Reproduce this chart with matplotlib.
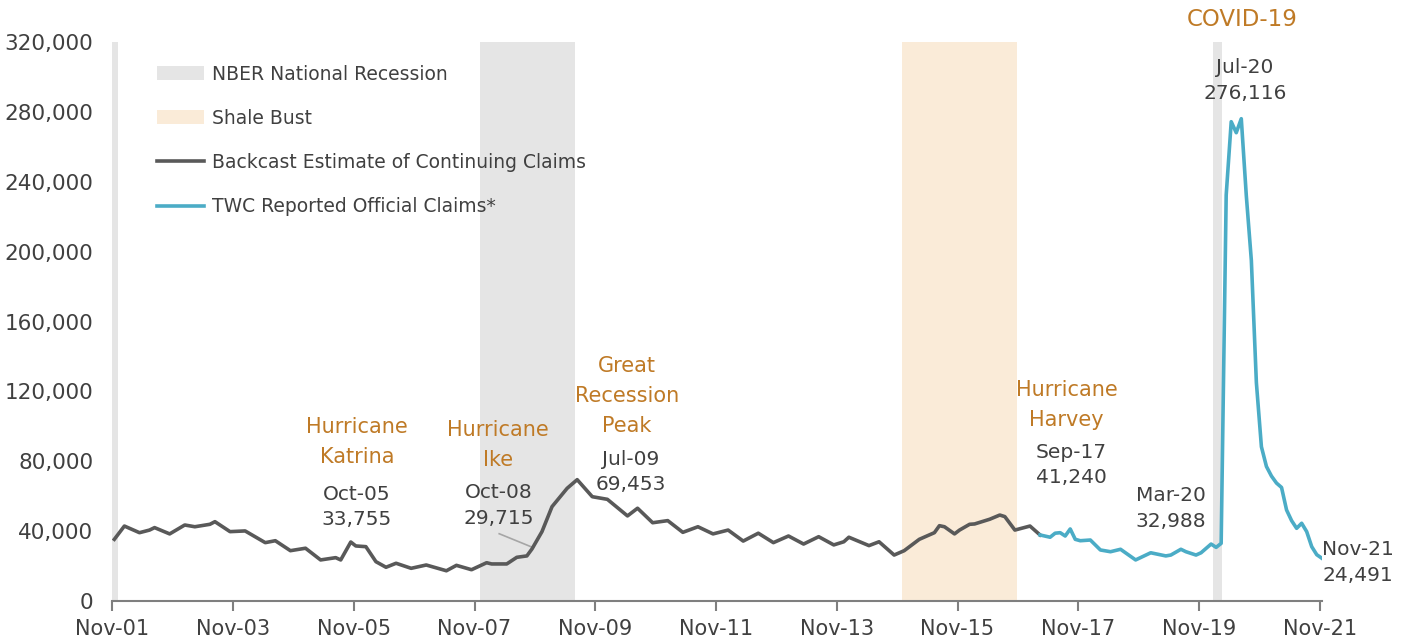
import matplotlib
matplotlib.use("Agg")
import matplotlib.pyplot as plt
from matplotlib.patches import Patch
from matplotlib.lines import Line2D
import numpy as np

# months counted from Nov-01 (0) to Nov-21 (240)
tick_months = [0, 24, 48, 72, 96, 120, 144, 168, 192, 216, 240]
tick_labels = ["Nov-01", "Nov-03", "Nov-05", "Nov-07", "Nov-09", "Nov-11",
               "Nov-13", "Nov-15", "Nov-17", "Nov-19", "Nov-21"]

# Backcast estimate of continuing claims (month index, claims)
backcast_months = [0, 2, 5, 7, 8, 11, 14, 16, 19, 20, 23, 26, 30, 32, 35, 38, 41, 44, 45,
                   47, 48, 50, 52, 54, 56, 59, 62, 66, 68, 71, 74, 75, 78, 80, 82, 83, 85,
                   87, 90, 92, 95, 98, 102, 104, 107, 110, 113, 116, 119, 122, 125, 128,
                   131, 134, 137, 140, 143, 145, 146, 150, 152, 155, 157, 160, 163, 164,
                   165, 167, 168, 170, 171, 174, 176, 177, 179, 182, 184]
backcast_claims = [35300, 42900, 39100, 40600, 42000, 38400, 43500, 42500, 43900, 45400,
                   39700, 40100, 33400, 34500, 28800, 30200, 23500, 24800, 23500,
                   33755, 31500, 31100, 22500, 19300, 21600, 18700, 20600, 17300, 20400,
                   17900, 21900, 21200, 21200, 25000, 25800, 29715, 39700,
                   54000, 64500, 69453, 59700, 58200, 48700, 53100, 44800, 46000, 39300,
                   42500, 38400, 40600, 34300, 38800, 33400, 37200, 32600, 36800, 32100,
                   33900, 36500, 31700, 33900, 26300, 28800, 35300, 39100, 43100,
                   42500, 38400, 40600, 43900, 44100, 46800, 49200, 48300, 40600, 42900, 37800]

# TWC reported official claims
twc_months = [184, 186, 187, 188, 189, 190, 191, 192, 194, 196, 198, 200, 203, 206, 209,
              210, 212, 213, 215, 216, 218, 219, 220, 221, 222, 223, 224, 225, 226, 227,
              228, 229, 230, 231, 232, 233, 234, 235, 236, 237, 238, 239, 240]
twc_claims = [37800, 36500, 38800, 39100, 37200, 41240, 35300, 34500, 34900, 29200, 28200,
              29600, 23500, 27600, 25800, 26300, 29600, 28200, 26300, 27600, 32600, 30700,
              32988, 232400, 274400, 268100, 276116, 232000, 195000, 125000, 88300, 77000,
              71500, 67500, 65000, 52100, 46000, 41600, 44500, 39700, 31100, 26500, 24491]

recessions = [(-0.45, 0.7), (72.6, 91.5), (218.4, 220.2)]
shale_bust = (156.6, 179.4)

gray_line = "#595959"
blue_line = "#4BACC6"
orange_txt = "#BF7A26"
dark_txt = "#404040"
recession_col = "#E5E5E5"
shale_col = "#FAEBD8"

plt.rcParams["font.family"] = ["DejaVu Sans"]

fig = plt.figure(figsize=(14.06, 6.39), dpi=100)
ax = fig.add_axes([0.0797, 0.0595, 0.8604, 0.8747])

for start, end in recessions:
    ax.axvspan(start, end, color=recession_col, lw=0, zorder=0)
ax.axvspan(shale_bust[0], shale_bust[1], color=shale_col, lw=0, zorder=0)

ax.plot(backcast_months, backcast_claims, color=gray_line, lw=2.6, zorder=3,
        solid_joinstyle="round")
ax.plot(twc_months, twc_claims, color=blue_line, lw=2.6, zorder=3,
        solid_joinstyle="round")

ax.set_xlim(-0.45, 240)
ax.set_ylim(0, 320000)
ax.set_yticks(np.arange(0, 320001, 40000))
ax.set_yticklabels([f"{v:,}" for v in range(0, 320001, 40000)])
# Excel-style date axis: ticks sit a little left of the monthly points
ax.set_xticks([m - 0.4 for m in tick_months])
ax.set_xticklabels(tick_labels)

for side in ["top", "right", "left"]:
    ax.spines[side].set_visible(False)
ax.spines["bottom"].set_color("#7F7F7F")
ax.spines["bottom"].set_linewidth(1.5)
ax.tick_params(axis="y", length=0, labelsize=15.5, labelcolor=dark_txt, pad=13.5)
ax.tick_params(axis="x", length=7, width=1.5, color="#7F7F7F", labelsize=15,
               labelcolor=dark_txt, pad=6)

# event labels
def event(x, y, text, size=15):
    ax.text(x, y, text, color=orange_txt, fontsize=size, ha="center", va="center",
            linespacing=1.6, clip_on=False)

def value(x, y, text, ha="center"):
    ax.text(x, y, text, color=dark_txt, fontsize=14.5, ha=ha, va="center",
            linespacing=1.45, clip_on=False)

event(48.2, 91000, "Hurricane\nKatrina")
value(48.2, 53800, "Oct-05\n33,755")
event(76.2, 89300, "Hurricane\nIke")
value(76.4, 54700, "Oct-08\n29,715")
ax.plot([76.5, 83.3], [38500, 30500], color="#A6A6A6", lw=1.2, zorder=2)
event(101.9, 117300, "Great\nRecession\nPeak")
value(102.7, 73800, "Jul-09\n69,453")
event(189.3, 112200, "Hurricane\nHarvey")
value(190.2, 77800, "Sep-17\n41,240")
value(210, 52900, "Mar-20\n32,988")
event(224.2, 333100, "COVID-19", size=16.5)
value(224.7, 297900, "Jul-20\n276,116")
value(240.1, 22000, "Nov-21\n24,491", ha="left")

handles = [Patch(facecolor=recession_col, edgecolor="none"),
           Patch(facecolor=shale_col, edgecolor="none"),
           Line2D([0], [0], color=gray_line, lw=2.6),
           Line2D([0], [0], color=blue_line, lw=2.6)]
labels = ["NBER National Recession", "Shale Bust",
          "Backcast Estimate of Continuing Claims", "TWC Reported Official Claims*"]
leg = ax.legend(handles, labels, loc="upper left", bbox_to_anchor=(0.023, 0.99),
                frameon=False, fontsize=13.5, handlelength=2.5, handleheight=0.75,
                handletextpad=0.45, labelspacing=1.35)
for t in leg.get_texts():
    t.set_color(dark_txt)

fig.savefig("out.png", dpi=100)
